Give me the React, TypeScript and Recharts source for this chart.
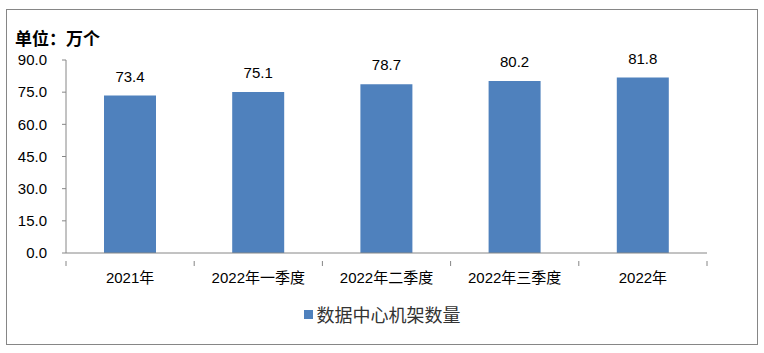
import { BarChart, Bar, XAxis, YAxis, LabelList } from "recharts";

const CATEGORIES = ["2021年", "2022年一季度", "2022年二季度", "2022年三季度", "2022年"];
const RACKS = [73.4, 75.1, 78.7, 80.2, 81.8];
const Y_TICKS = [0, 15, 30, 45, 60, 75, 90];

const SERIES_NAME = "数据中心机架数量";
const BAR_COLOR = "#4f81bd";
const AXIS_COLOR = "#868686";
const FONT = "'Liberation Sans', 'Noto Sans CJK SC', sans-serif";

const data = CATEGORIES.map((name, i) => ({ name, value: RACKS[i] }));

const W = 764;
const H = 353;
const PLOT_LEFT = 66;
const PLOT_RIGHT = 707;
const BAND = (PLOT_RIGHT - PLOT_LEFT) / CATEGORIES.length;

// x tick: label under the category plus Excel-style tick marks on the band edges
function CategoryTick(props: any) {
  const { x, y, payload, index } = props;
  const last = index === CATEGORIES.length - 1;
  return (
    <g>
      <line x1={x - BAND / 2} x2={x - BAND / 2} y1={y} y2={y + 5} stroke={AXIS_COLOR} />
      {last && <line x1={x + BAND / 2} x2={x + BAND / 2} y1={y} y2={y + 5} stroke={AXIS_COLOR} />}
      <text x={x} y={y + 18} textAnchor="middle" dominantBaseline="middle" fontSize={15} fill="#000" fontFamily={FONT}>
        {payload.value}
      </text>
    </g>
  );
}

export default function App() {
  return (
    <div style={{ position: "absolute", left: 0, top: 0, width: W, height: H, background: "#fff", fontFamily: FONT }}>
      <div
        style={{
          position: "absolute",
          left: 6,
          top: 9,
          width: 750,
          height: 334,
          border: `1px solid ${AXIS_COLOR}`,
        }}
      />
      <div
        style={{
          position: "absolute",
          left: 15,
          top: 28,
          fontSize: 17,
          fontWeight: 700,
          color: "#000",
          fontFamily: "'Noto Sans CJK SC', sans-serif",
          lineHeight: "20px",
        }}
      >
        单位：万个
      </div>
      <div style={{ position: "absolute", left: 0, top: 0 }}>
        <BarChart
          width={W}
          height={H}
          data={data}
          margin={{ top: 60, right: W - PLOT_RIGHT, left: 0, bottom: 70 }}
        >
          <YAxis
            domain={[0, 90]}
            ticks={Y_TICKS}
            interval={0}
            width={PLOT_LEFT}
            tickFormatter={(v: number) => v.toFixed(1)}
            tick={{ fontSize: 15, fill: "#000", fontFamily: FONT }}
            tickSize={4}
            tickMargin={15}
            axisLine={{ stroke: AXIS_COLOR }}
            tickLine={{ stroke: AXIS_COLOR }}
          />
          <XAxis
            dataKey="name"
            interval={0}
            height={30}
            axisLine={{ stroke: AXIS_COLOR }}
            tickLine={false}
            tick={<CategoryTick />}
          />
          <Bar dataKey="value" fill={BAR_COLOR} barSize={52} isAnimationActive={false} name={SERIES_NAME}>
            <LabelList
              dataKey="value"
              position="top"
              offset={14}
              formatter={(v: any) => Number(v).toFixed(1)}
              style={{ fontSize: 15, fill: "#000", fontFamily: FONT }}
            />
          </Bar>
        </BarChart>
      </div>
      <div
        style={{
          position: "absolute",
          left: 0,
          width: W,
          top: 301,
          display: "flex",
          justifyContent: "center",
          alignItems: "center",
          fontSize: 18,
          lineHeight: "26px",
          color: "#333",
          fontFamily: "'Noto Sans CJK SC', sans-serif",
        }}
      >
        <span style={{ display: "inline-block", width: 9, height: 9, background: BAR_COLOR, marginRight: 4 }} />
        <span>{SERIES_NAME}</span>
      </div>
    </div>
  );
}
